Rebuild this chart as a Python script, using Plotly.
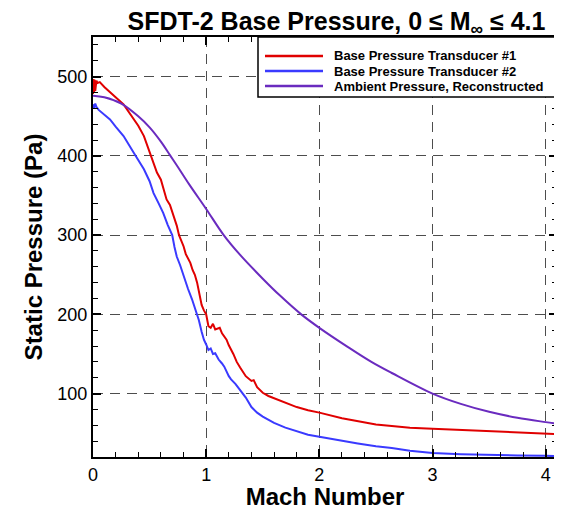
import plotly.graph_objects as go

# ---- data ----
red_mach = [0, 0.005, 0.01, 0.015, 0.02, 0.03, 0.04, 0.06, 0.1, 0.15, 0.2, 0.27, 0.33, 0.4, 0.45, 0.5,
            0.565, 0.6, 0.65, 0.68, 0.7, 0.72, 0.74, 0.76, 0.78, 0.8, 0.82, 0.84, 0.86, 0.88, 0.9, 0.92,
            0.94, 0.96, 0.98, 1.0, 1.02, 1.04, 1.06, 1.08, 1.12, 1.14, 1.18, 1.2, 1.24, 1.27, 1.3, 1.35,
            1.4, 1.42, 1.45, 1.5, 1.55, 1.6, 1.7, 1.8, 1.9, 2.0, 2.2, 2.34, 2.5, 2.64, 2.8, 3.0, 3.25,
            3.5, 3.75, 4.0, 4.1]
red_p = [478, 497, 480, 496, 482, 495, 492, 493, 487, 480, 474, 465, 452, 438, 425, 405,
         379, 370, 345, 338, 330, 322, 312, 300, 293, 286, 276, 270, 265, 256, 250, 240,
         228, 212, 205, 200, 185, 183, 188, 181, 183, 176, 168, 161, 150, 140, 133, 122,
         116, 117, 108, 101, 97, 94, 88, 83, 79, 76, 69, 65, 61, 59, 57, 55.5, 54,
         52.5, 51, 49.5, 49]

blue_mach = [0, 0.01, 0.02, 0.03, 0.05, 0.1, 0.15, 0.2, 0.27, 0.36, 0.45, 0.5, 0.535, 0.58, 0.62,
             0.66, 0.7, 0.72, 0.74, 0.77, 0.8, 0.84, 0.875, 0.9, 0.935, 0.96, 0.98, 1.0, 1.02, 1.04,
             1.06, 1.08, 1.11, 1.14, 1.16, 1.2, 1.22, 1.26, 1.3, 1.35, 1.4, 1.45, 1.5, 1.6, 1.7,
             1.75, 1.9, 2.0, 2.2, 2.34, 2.5, 2.64, 2.8, 3.0, 3.25, 3.5, 3.75, 4.0, 4.1]
blue_p = [465, 460, 466, 462, 458, 452, 446, 437, 425, 404, 383, 368, 353, 340, 328,
          313, 300, 285, 273, 262, 248, 232, 219, 208, 193, 178, 168, 162, 155, 157,
          150, 151, 143, 138, 134, 122, 118, 112, 105, 95, 83, 76, 71, 63, 57,
          54.5, 48, 45.5, 40, 37, 33.5, 31.5, 28, 25, 23.5, 22.5, 22, 21.5, 21]

amb_mach = [0, 0.1, 0.25, 0.4, 0.5, 0.6, 0.68, 0.75, 0.85, 1.0, 1.155, 1.3, 1.5, 1.65, 1.84, 2.0,
            2.25, 2.46, 2.64, 3.0, 3.25, 3.5, 3.75, 4.0, 4.1]
amb_p = [476, 474, 466, 450, 436, 418, 401, 386, 364, 333, 300, 275, 245, 224, 200, 183,
         159, 140, 126, 100, 87, 77, 69.5, 64, 62]

names = ["Base Pressure Transducer #1", "Base Pressure Transducer #2",
         "Ambient Pressure, Reconstructed"]
colors = ["#e00000", "#3a3aff", "#6a2bbf"]

x_ticks = [0, 1, 2, 3, 4]
y_ticks = [100, 200, 300, 400, 500]

FONT = "Arial, Liberation Sans, Helvetica, sans-serif"

fig = go.Figure()
series = [(red_mach, red_p, "linear"), (blue_mach, blue_p, "linear"), (amb_mach, amb_p, "spline")]
for (mx, pv, shp), nm, col in zip(series, names, colors):
    fig.add_trace(go.Scatter(x=mx, y=pv, mode="lines", name=nm, showlegend=False,
                             line=dict(color=col, width=2, shape=shp)))

axis_common = dict(
    showline=True, linecolor="black", linewidth=2, mirror="ticks",
    ticks="inside", ticklen=8, tickwidth=2, tickcolor="black",
    showgrid=True, gridcolor="#4d4d4d", gridwidth=1.3, griddash="10px,7px",
    zeroline=False, automargin=False,
    tickfont=dict(family=FONT, size=18, color="black"),
)

fig.update_xaxes(**axis_common, range=[0, 4.1], tickvals=x_ticks,
                 minor=dict(dtick=0.2, tick0=0, ticks="inside", ticklen=5, tickwidth=1,
                            tickcolor="black", showgrid=False),
                 title=dict(text="<b>Mach Number</b>", standoff=13,
                            font=dict(family=FONT, size=24, color="black")))
fig.update_yaxes(**axis_common, range=[20, 550], tickvals=y_ticks,
                 minor=dict(dtick=20, tick0=0, ticks="inside", ticklen=5, tickwidth=1,
                            tickcolor="black", showgrid=False),
                 title=dict(text="<b>Static Pressure (Pa)</b>", standoff=8,
                            font=dict(family=FONT, size=24, color="black")))

# The page body has an 8px margin, so the figure is 8px smaller than the window
W, H = 554, 502
L, R, T, B = 85, 549, 29, 449      # plot area in figure pixels
OFF = 8                             # page offset of the figure
pw, ph = R - L, B - T
def px(x_page):
    return (x_page - OFF - L) / pw
def py_(y_page):
    return (B - (y_page - OFF)) / ph

shapes = [dict(type="rect", xref="paper", yref="paper",
               x0=px(258), x1=1, y0=py_(97), y1=1,
               line=dict(color="black", width=1.5), fillcolor="white", layer="above")]
annotations = []
rows = [56, 71, 86]
for yy, nm, col in zip(rows, names, colors):
    shapes.append(dict(type="line", xref="paper", yref="paper",
                       x0=px(265), x1=px(323), y0=py_(yy), y1=py_(yy),
                       line=dict(color=col, width=2.5), layer="above"))
    annotations.append(dict(xref="paper", yref="paper", x=px(332), y=py_(yy),
                            xanchor="left", yanchor="middle", showarrow=False,
                            text="<b>" + nm + "</b>",
                            font=dict(family=FONT, size=13, color="black")))

fig.update_layout(
    width=W, height=H,
    margin=dict(l=L, r=W - R, t=T, b=H - B, autoexpand=False),
    paper_bgcolor="white", plot_bgcolor="white",
    title=dict(text="<b>SFDT-2 Base Pressure, 0 ≤ M<sub>∞</sub> ≤ 4.1</b>",
               xref="container", x=(336.5 - OFF) / W, xanchor="center",
               yref="container", y=1 - (21 - OFF) / H, yanchor="middle",
               font=dict(family=FONT, size=25, color="black")),
    shapes=shapes, annotations=annotations,
    showlegend=False,
)

fig.write_html("out.html")
